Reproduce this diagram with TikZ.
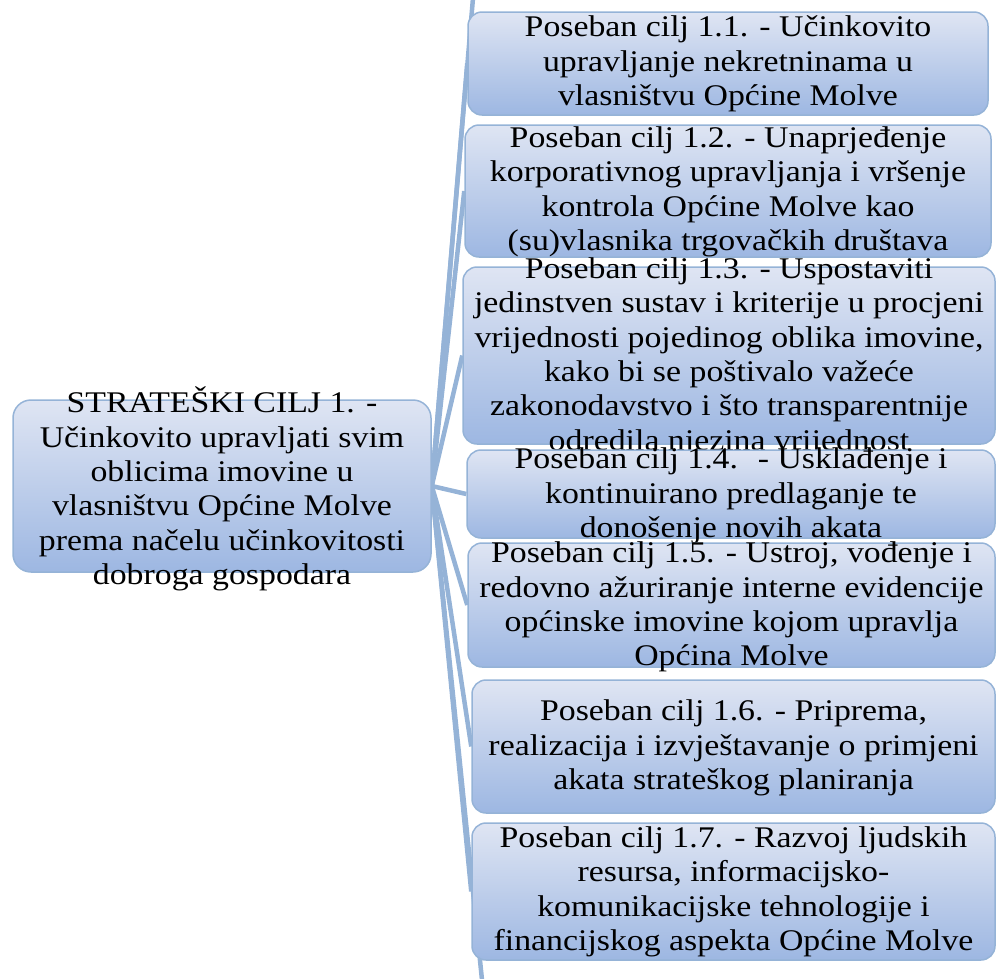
\documentclass[tikz,border=0pt]{standalone}
\usepackage{fontspec}
\setmainfont[FakeStretch=1.127]{Liberation Serif}
\usetikzlibrary{backgrounds}
\definecolor{boxtop}{RGB}{223,229,243}
\definecolor{boxbottom}{RGB}{157,183,226}
\definecolor{boxline}{RGB}{149,179,215}
\begin{document}
\begin{tikzpicture}[
    x=1pt, y=-1pt,
    panel/.style={rectangle, draw=boxline, line width=1.5pt, top color=boxtop, bottom color=boxbottom, rounded corners=14pt, inner sep=0pt},
    caption/.style={align=center, inner sep=0pt, font=\fontsize{30}{34.4}\selectfont},
    link/.style={draw=boxline, line width=4.5pt}
]
\useasboundingbox (0,0) rectangle (996,978);

% strategic goal
\node[panel, rounded corners=18pt, minimum width=418pt, minimum height=172pt] (root) at (222,486) {};
\node[caption] (roottext) at (222,489) {STRATEŠKI CILJ 1. -\\ Učinkovito upravljati svim\\ oblicima imovine u\\ vlasništvu Općine Molve\\ prema načelu učinkovitosti\\ dobroga gospodara};

% specific goals
\node[panel, minimum width=520pt, minimum height=103pt] (c1) at (728,63.5) {};
\node[caption] (c1text) at (728,64) {Poseban cilj 1.1. - Učinkovito\\ upravljanje nekretninama u\\ vlasništvu Općine Molve};

\node[panel, minimum width=526pt, minimum height=132pt] (c2) at (728,191) {};
\node[caption] (c2text) at (728,192) {Poseban cilj 1.2. - Unaprjeđenje\\ korporativnog upravljanja i vršenje\\ kontrola Općine Molve kao\\ (su)vlasnika trgovačkih društava};

\node[panel, minimum width=532pt, minimum height=177pt] (c3) at (729,355.5) {};
\node[caption] (c3text) at (729,357) {Poseban cilj 1.3. - Uspostaviti\\ jedinstven sustav i kriterije u procjeni\\ vrijednosti pojedinog oblika imovine,\\ kako bi se poštivalo važeće\\ zakonodavstvo i što transparentnije\\ odredila njezina vrijednost};

\node[panel, minimum width=528pt, minimum height=88pt] (c4) at (731,494) {};
\node[caption] (c4text) at (731,496) {Poseban cilj 1.4. \ - Usklađenje i\\ kontinuirano predlaganje te\\ donošenje novih akata};

\node[panel, minimum width=527pt, minimum height=124pt] (c5) at (731.5,605) {};
\node[caption] (c5text) at (731.5,607) {Poseban cilj 1.5. - Ustroj, vođenje i\\ redovno ažuriranje interne evidencije\\ općinske imovine kojom upravlja\\ Općina Molve};

\node[panel, minimum width=523pt, minimum height=133pt] (c6) at (733.5,746.5) {};
\node[caption] (c6text) at (733.5,748) {Poseban cilj 1.6. - Priprema,\\ realizacija i izvještavanje o primjeni\\ akata strateškog planiranja};

\node[panel, minimum width=523pt, minimum height=137pt] (c7) at (733.5,891.5) {};
\node[caption] (c7text) at (733.5,892) {Poseban cilj 1.7. - Razvoj ljudskih\\ resursa, informacijsko-\\ komunikacijske tehnologije i\\ financijskog aspekta Općine Molve};

% links leaving the page
\coordinate (offtop) at (473,-2);
\coordinate (offbottom) at (482,980);

\begin{scope}[on background layer]
\draw[link] (root.east) -- (offtop);
\draw[link] (root.east) -- (c1.west);
\draw[link] (root.east) -- (c2.west);
\draw[link] (root.east) -- (c3.west);
\draw[link] (root.east) -- (c4.west);
\draw[link] (root.east) -- (c5.west);
\draw[link] (root.east) -- (c6.west);
\draw[link] (root.east) -- (c7.west);
\draw[link] (root.east) -- (offbottom);
\end{scope}
\end{tikzpicture}
\end{document}
